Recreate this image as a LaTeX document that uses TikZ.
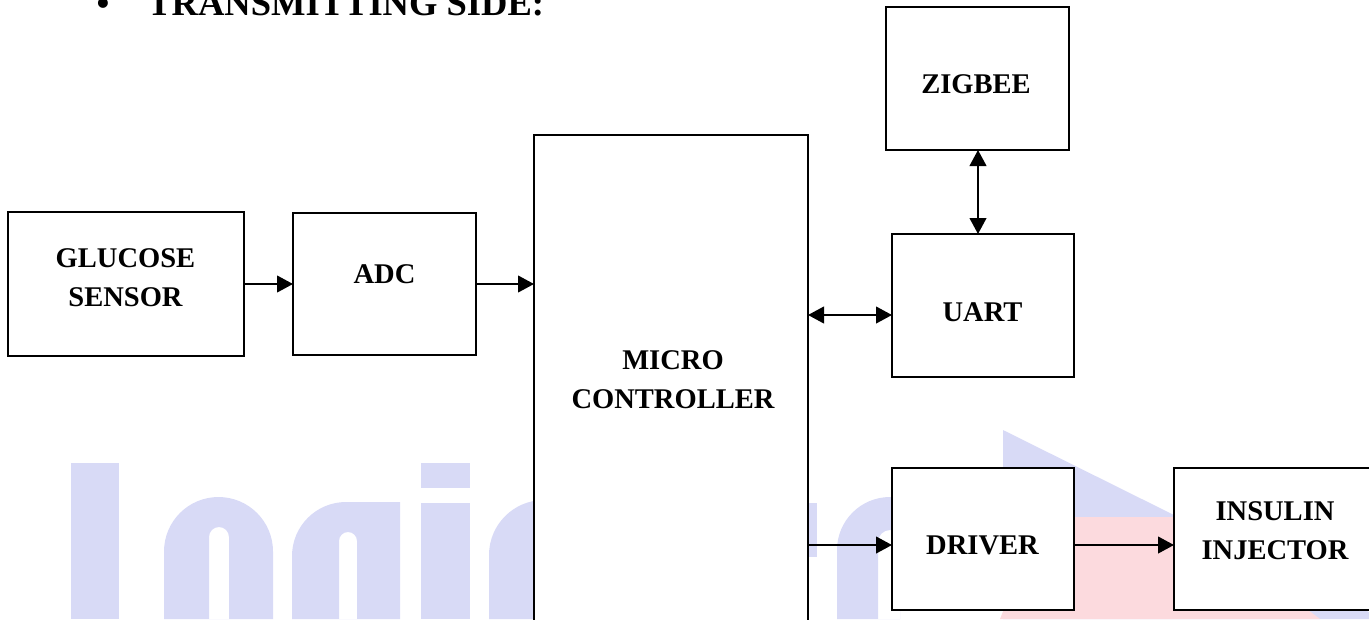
\documentclass[tikz,border=0pt]{standalone}
\usepackage{fontspec}
\setmainfont{Liberation Serif}
\usetikzlibrary{arrows.meta,fit}
\definecolor{wmblue}{RGB}{216,218,246}
\definecolor{wmpink}{RGB}{252,218,222}
\begin{document}
\begin{tikzpicture}[x=0.75pt,y=-0.75pt,
  box/.style={draw=black,line width=1.5pt,fill=white,inner sep=0pt,outer sep=0pt},
  lbl/.style={font=\fontsize{21.4}{29.3}\selectfont\bfseries,inner sep=0pt,align=center},
  arr/.style={line width=1.6pt,-{Triangle[length=12pt,width=12.5pt]}},
  darr/.style={line width=1.6pt,{Triangle[length=12pt,width=12.5pt]}-{Triangle[length=12pt,width=12.5pt]}},
  wm/.style={fill=wmblue,draw=none}]
\useasboundingbox (0,0) rectangle (1369,619);
\clip (0,0) rectangle (1369,619);
% watermark
\fill[wm] (71,463) rectangle (119,619);
\fill[wm,even odd rule] (164,619) -- (164,551.5) arc[start angle=180,end angle=360,radius=54.5] -- (273,619) -- cycle
  (209,619) -- (209,537) arc[start angle=180,end angle=360,radius=10] -- (229,619) -- cycle;
\fill[wm,even odd rule] (292,619) -- (292,556) arc[start angle=180,end angle=270,radius=54] -- (400,502) -- (400,619) -- cycle
  (339,619) -- (339,541) arc[start angle=180,end angle=360,radius=9] -- (357,619) -- cycle;
\fill[wm] (421,463) rectangle (470,488);
\fill[wm] (421,503) rectangle (470,619);
\fill[wm] (489,619) -- (489,555) arc[start angle=180,end angle=270,radius=55] -- (560,500) -- (560,619) -- cycle;
\fill[wm] (807,503) rectangle (817,557);
\fill[wm,even odd rule] (837,619) -- (837,550) arc[start angle=180,end angle=270,radius=53] -- (900,497) -- (900,619) -- cycle
  (878,619) -- (878,542) arc[start angle=180,end angle=270,radius=12] -- (900,530) -- (900,619) -- cycle;
\fill[wm] (1003,430) -- (1369,612) -- (1369,619) -- (1003,619) -- cycle;
\fill[wmpink] (1040,517) -- (1185,517) -- (1320,619) -- (1000,619) -- cycle;
% title
\node[font=\fontsize{27.4}{30}\selectfont\bfseries,inner sep=0pt,anchor=base] (bul) at (103,15) {•};
\node[font=\fontsize{27.4}{30}\selectfont\bfseries,inner sep=0pt,anchor=base west] (title) at (147,15) {TRANSMITTING SIDE:};
% boxes
\node[box,fit={(8,212) (244,356)}] (gs) {};
\node[box,fit={(293,213) (476,355)}] (adc) {};
\node[box,fit={(534,135) (808,650)}] (mc) {};
\node[box,fit={(886,7) (1069,150)}] (zig) {};
\node[box,fit={(892,234) (1074,377)}] (uart) {};
\node[box,fit={(892,468) (1074,610)}] (drv) {};
\node[box,fit={(1174,468) (1371,610)}] (ins) {};
% labels
\node[lbl] (gsl) at (125.5,277.5) {GLUCOSE\\SENSOR};
\node[lbl] (adcl) at (384.5,274) {ADC};
\node[lbl] (mcl) at (673,379.5) {MICRO\\CONTROLLER};
\node[lbl] (zigl) at (976,84) {ZIGBEE};
\node[lbl] (uartl) at (982.5,312) {UART};
\node[lbl] (drvl) at (982.5,545) {DRIVER};
\node[lbl] (insl) at (1275,531) {INSULIN\\INJECTOR};
% connectors
\draw[arr] (gs.east |- 0,284) -- (adc.west |- 0,284);
\draw[arr] (adc.east |- 0,284) -- (mc.west |- 0,284);
\draw[darr] (mc.east |- 0,315) -- (uart.west |- 0,315);
\draw[darr] (zig.south -| 978,0) -- (uart.north -| 978,0);
\draw[arr] (mc.east |- 0,545) -- (drv.west |- 0,545);
\draw[arr] (drv.east |- 0,545) -- (ins.west |- 0,545);
\end{tikzpicture}
\end{document}
